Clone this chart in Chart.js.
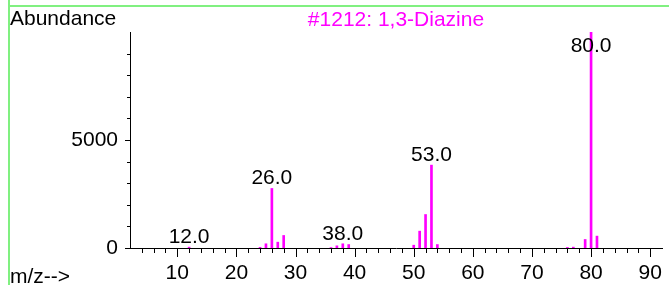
<!DOCTYPE html>
<html>
<head>
<meta charset="utf-8">
<script src="https://cdn.jsdelivr.net/npm/chart.js@4"></script>
<style>
  html, body { margin: 0; padding: 0; background: #fff; }
  #wrap { position: relative; width: 669px; height: 285px; overflow: hidden; font-family: 'Liberation Sans', Arial, sans-serif; }
  #chart { position: absolute; left: 0; top: 0; }
  .frame { position: absolute; background: #80f080; }
  .txt { position: absolute; font-size: 21px; line-height: 21px; white-space: nowrap; }
</style>
</head>
<body>
<div id="wrap">
  <canvas id="chart" width="669" height="285"></canvas>
  <div class="frame" style="left:8px;top:0;width:2px;height:285px"></div>
  <div class="frame" style="left:8px;top:5px;width:661px;height:2px"></div>
  <div class="txt" style="left:10px;top:7px;color:#000">Abundance</div>
  <div class="txt" style="left:0;width:792px;text-align:center;top:8px;color:#ff00ff">#1212: 1,3-Diazine</div>
  <div class="txt" style="left:10px;top:265px;color:#000">m/z--&gt;</div>
</div>
<script>
// Spectrum data (m/z vs abundance)
var mzValues  = [12, 24, 25, 26, 27, 28, 36, 37, 38, 39, 50, 51, 52, 53, 54, 76, 77, 79, 80, 81];
var abundance = [40, 30, 195, 2757, 270, 580, 20, 100, 195, 160, 130, 780, 1550, 3837, 160, 25, 40, 395, 10000, 550];
var labelledPeaks = [12, 26, 38, 53, 80];
var xTickLabels = [10, 20, 30, 40, 50, 60, 70, 80, 90];
var yTickLabels = [0, 5000];

var FONT = "'Liberation Sans', Arial, sans-serif";

var points = mzValues.map(function(mz, i) { return { x: mz, y: abundance[i] }; });

// tick marks + peak labels
var spectrumPlugin = {
  id: 'spectrum',
  afterDraw: function(chart) {
    var ctx = chart.ctx;
    var xs = chart.scales.x, ys = chart.scales.y;
    var area = chart.chartArea;
    ctx.save();
    ctx.strokeStyle = '#000';
    ctx.lineWidth = 1;
    ctx.beginPath();
    for (var v = 4; v <= 90; v += 2) {
      var px = Math.round(xs.getPixelForValue(v)) + 0.5;
      var len = v % 10 === 0 ? 9 : 5;
      ctx.moveTo(px, area.bottom);
      ctx.lineTo(px, area.bottom + len);
    }
    for (var a = 0; a <= 9000; a += 1000) {
      var py = Math.round(ys.getPixelForValue(a)) + 0.5;
      var l = a % 5000 === 0 ? 5 : 3;
      ctx.moveTo(area.left, py);
      ctx.lineTo(area.left - l, py);
    }
    ctx.stroke();

    ctx.fillStyle = '#000';
    ctx.font = '21px ' + FONT;
    ctx.textAlign = 'center';
    ctx.textBaseline = 'alphabetic';
    labelledPeaks.forEach(function(mz) {
      var val = abundance[mzValues.indexOf(mz)];
      var px = xs.getPixelForValue(mz);
      var base = Math.max(ys.getPixelForValue(val) - 4, area.top + 20);
      ctx.fillText(mz.toFixed(1), px, base);
    });
    ctx.restore();
  }
};

new Chart(document.getElementById('chart').getContext('2d'), {
  type: 'bar',
  data: {
    datasets: [{
      data: points,
      backgroundColor: '#ff00ff',
      borderWidth: 0,
      barThickness: 2
    }]
  },
  options: {
    responsive: false,
    animation: false,
    layout: { padding: { top: 32, right: 7, left: 0, bottom: 0 } },
    plugins: { legend: { display: false }, tooltip: { enabled: false } },
    scales: {
      x: {
        type: 'linear',
        min: 2,
        max: 92,
        offset: false,
        grid: { display: false },
        border: { display: true, color: '#000', width: 1 },
        afterBuildTicks: function(scale) {
          scale.ticks = xTickLabels.map(function(v) { return { value: v }; });
        },
        afterFit: function(scale) {
          scale.height = 37;
          scale.paddingLeft = 0;
          scale.paddingRight = 0;
        },
        ticks: { color: '#000', padding: 5, maxRotation: 0, autoSkip: false, font: { family: FONT, size: 21 },
          callback: function(v) { return String(v); } }
      },
      y: {
        min: 0,
        max: 10000,
        grid: { display: false },
        border: { display: true, color: '#000', width: 1 },
        afterBuildTicks: function(scale) {
          scale.ticks = yTickLabels.map(function(v) { return { value: v }; });
        },
        afterFit: function(scale) {
          scale.width = 130;
          scale.paddingTop = 0;
          scale.paddingBottom = 0;
        },
        ticks: { color: '#000', padding: 4, font: { family: FONT, size: 21 },
          callback: function(v) { return String(v); } }
      }
    }
  },
  plugins: [spectrumPlugin]
});
</script>
</body>
</html>
